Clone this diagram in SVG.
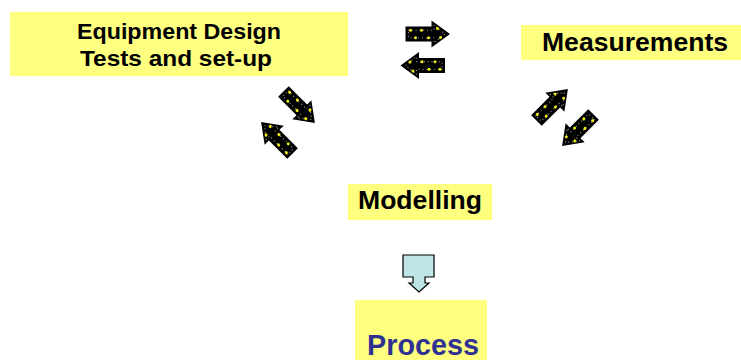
<svg xmlns="http://www.w3.org/2000/svg" xmlns:xlink="http://www.w3.org/1999/xlink" width="741" height="360" viewBox="0 0 741 360">
  <style>
    .box { fill: #ffff80; }
    .lbl { font-family: "Liberation Sans", Arial, sans-serif; font-weight: bold; fill: #000; text-anchor: start; }
    .proc { fill: #2e3192; }
    .body { fill: #000; }
    .lights { fill: none; stroke: #8c8c8c; stroke-width: 1.3; stroke-linecap: round; stroke-dasharray: 0 3.8; }
    .bulb { fill: #eeee10; }
    .down { fill: #bfe4e6; stroke: #000; stroke-width: 1.2; stroke-linejoin: miter; }
  </style>
  <defs>
    <!-- block arrow with marquee lights, pointing right, centred on the origin -->
    <g id="lamp-arrow">
      <path class="body" d="M -22 -7.5 L 4 -7.5 L 4 -13.5 L 22.5 0 L 4 13.5 L 4 7.5 L -22 7.5 Z"/>
      <path class="lights" d="M -19 -3.8 L 6.5 -3.8 L 6.5 -9 L 17.5 0 L 6.5 9 L 6.5 3.8 L -19 3.8 Z"/>
      <circle class="bulb" cx="-17" cy="-3.8" r="1.5"/>
      <circle class="bulb" cx="-6" cy="-3.8" r="1.5"/>
      <circle class="bulb" cx="-12" cy="3.8" r="1.5"/>
      <circle class="bulb" cx="1" cy="3.8" r="1.5"/>
      <circle class="bulb" cx="10" cy="-5.5" r="1.5"/>
      <circle class="bulb" cx="13" cy="3.5" r="1.5"/>
    </g>
  </defs>

  <g id="equipment">
    <rect class="box" x="10" y="12" width="338" height="64"/>
    <text class="lbl" x="77" y="39" font-size="22" textLength="204" lengthAdjust="spacingAndGlyphs">Equipment Design</text>
    <text class="lbl" x="80" y="66" font-size="22" textLength="192" lengthAdjust="spacingAndGlyphs">Tests and set-up</text>
  </g>

  <g id="measurements">
    <rect class="box" x="521" y="25" width="220" height="35"/>
    <text class="lbl" x="542" y="51" font-size="26" textLength="186" lengthAdjust="spacingAndGlyphs">Measurements</text>
  </g>

  <g id="modelling">
    <rect class="box" x="348" y="184" width="144" height="36"/>
    <text class="lbl" x="358" y="209" font-size="26" textLength="124" lengthAdjust="spacingAndGlyphs">Modelling</text>
  </g>

  <g id="process">
    <rect class="box" x="355" y="300" width="132" height="60"/>
    <text class="lbl proc" x="367" y="355" font-size="30" textLength="112" lengthAdjust="spacingAndGlyphs">Process</text>
  </g>

  <g id="connectors">
    <use xlink:href="#lamp-arrow" transform="translate(427.5 34)"/>
    <use xlink:href="#lamp-arrow" transform="translate(423 65.5) rotate(180)"/>
    <use xlink:href="#lamp-arrow" transform="translate(299 107) rotate(45)"/>
    <use xlink:href="#lamp-arrow" transform="translate(277 138) rotate(225)"/>
    <use xlink:href="#lamp-arrow" transform="translate(552 105) rotate(-45)"/>
    <use xlink:href="#lamp-arrow" transform="translate(578 130) rotate(135)"/>
    <path class="down" d="M 403 255 H 434 V 277 H 425 V 283 H 429 L 419 292 L 409 283 H 413 V 277 H 403 Z"/>
  </g>
</svg>
